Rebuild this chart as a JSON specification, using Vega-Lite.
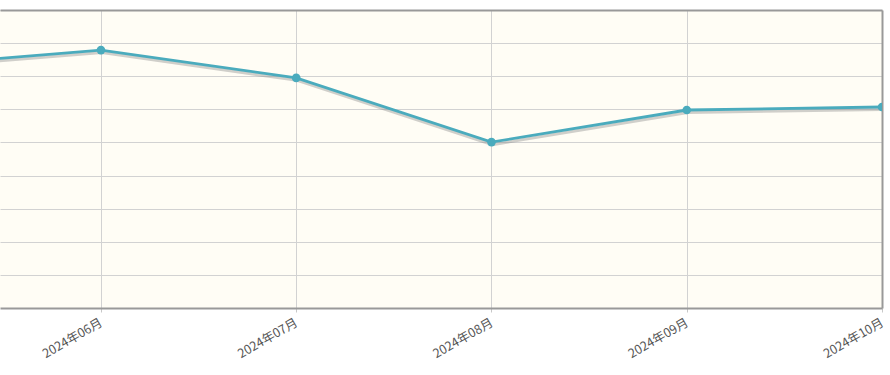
{
  "$schema": "https://vega.github.io/schema/vega-lite/v6.json",
  "width": 882,
  "height": 298,
  "autosize": "none",
  "padding": {"left": 0, "top": 10, "right": 8, "bottom": 67},
  "background": "white",
  "view": {"fill": "#fffdf5", "stroke": null},
  "data": {"values": [
    {"m": 5, "v": 73.1},
    {"m": 6, "v": 77.9},
    {"m": 7, "v": 69.5},
    {"m": 8, "v": 50.1},
    {"m": 9, "v": 59.8},
    {"m": 10, "v": 60.7}
  ]},
  "config": {
    "axis": {"gridColor": "#d2d2d2", "gridWidth": 1, "domainColor": "#999999", "domainWidth": 2, "tickColor": "#c8c8c8", "tickSize": 4, "title": null}
  },
  "layer": [
    {
      "mark": {"type": "line", "clip": true, "stroke": "#8a8a8a", "strokeWidth": 3, "opacity": 0.4, "yOffset": 2.5, "xOffset": 1},
      "encoding": {
        "x": {"field": "m", "type": "quantitative", "scale": {"domain": [5.483, 10], "nice": false, "zero": false}, "axis": {"orient": "top", "values": [6, 7, 8, 9, 10], "labels": false, "ticks": false, "grid": false, "domain": true}},
        "y": {"field": "v", "type": "quantitative", "scale": {"domain": [0, 90], "nice": false, "zero": false}, "axis": {"orient": "right", "values": [10, 20, 30, 40, 50, 60, 70, 80, 90], "labels": false, "ticks": false, "grid": true, "domain": true}}
      }
    },
    {
      "mark": {"type": "line", "clip": true, "stroke": "#4aabbd", "strokeWidth": 2.8},
      "encoding": {
        "x": {"field": "m", "type": "quantitative", "scale": {"domain": [5.483, 10], "nice": false, "zero": false}, "axis": {"orient": "bottom", "values": [6, 7, 8, 9, 10], "grid": true, "labelAngle": -30, "labelAlign": "right", "labelBaseline": "top", "labelPadding": 4, "labelOffset": -3, "labelFont": "Noto Sans CJK SC", "labelFontSize": 12.5, "labelColor": "#555555", "labelExpr": "'2024年' + (datum.value < 10 ? '0' : '') + datum.value + '月'", "labelOverlap": false, "labelFlush": false}},
        "y": {"field": "v", "type": "quantitative", "scale": {"domain": [0, 90], "nice": false, "zero": false}, "axis": null}
      }
    },
    {
      "mark": {"type": "point", "clip": true, "filled": true, "fill": "#4aabbd", "opacity": 1, "size": 75, "shape": "circle"},
      "encoding": {
        "x": {"field": "m", "type": "quantitative", "scale": {"domain": [5.483, 10], "nice": false, "zero": false}, "axis": null},
        "y": {"field": "v", "type": "quantitative", "scale": {"domain": [0, 90], "nice": false, "zero": false}, "axis": null}
      }
    }
  ],
  "resolve": {"axis": {"x": "independent", "y": "independent"}}
}
